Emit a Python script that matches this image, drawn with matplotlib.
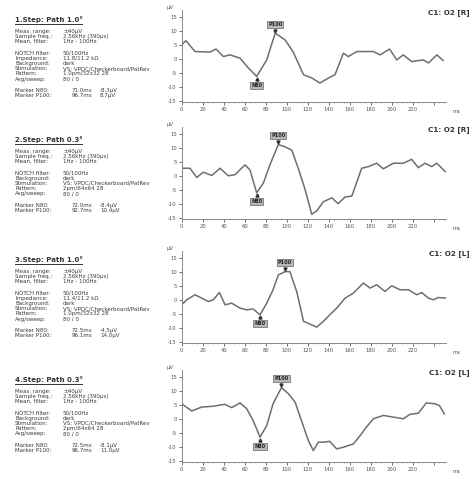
import matplotlib
matplotlib.use("Agg")
import matplotlib.pyplot as plt
from matplotlib.lines import Line2D
from matplotlib.ticker import MultipleLocator

W, H = 473, 479

# ---- data (ms, μV) ----
T1 = [0, 4, 12.7, 27, 32.7, 39.7, 46, 55.6, 63.5, 71.4, 81, 89, 98.4, 106, 116, 124,
      131.7, 139.7, 146, 154, 158.7, 166.7, 182.5, 189, 198, 204.8, 211, 219, 230, 235, 243, 249]
A1 = [5, 6.5, 2.6, 2.4, 3.5, 0.8, 1.4, 0.2, -3.3, -6.3, -0.4, 9.2, 6.8, 2.6, -5.7, -6.9,
      -8.7, -6.9, -5.7, 2.0, 0.8, 2.6, 2.6, 1.4, 3.5, -0.4, 1.4, -1.0, -0.4, -1.5, 1.4, -0.6]

T2 = [0, 7.9, 14.3, 20.6, 28.6, 36.5, 44.4, 50.8, 60.3, 65, 71.4, 77.8, 84, 92, 98.4, 104.8,
      111, 117.5, 123.8, 128.6, 135, 143, 149, 155.6, 162, 171.4, 177.8, 185.7, 192, 201.6,
      211, 219, 225.4, 231.7, 238, 243, 251]
A2 = [2.7, 2.7, -0.6, 1.3, 0.1, 2.7, 0, 0.4, 3.9, 2.1, -6.1, -2.6, 3.9, 11.2, 10.4, 9.2,
      2.7, -4.9, -13.8, -12.6, -9.3, -7.9, -10, -7.6, -7.3, 2.7, 3.3, 4.5, 2.5, 4.5,
      4.5, 5.9, 2.9, 4.5, 3.3, 4.5, 1.5]

T3 = [0, 4.8, 12.7, 19, 25.4, 30, 35.9, 41.3, 47.6, 55.6, 61.9, 68, 74.6, 81, 87, 92, 98.4,
      103, 109.5, 116, 122, 128.6, 135, 141, 147.6, 155.6, 163.5, 173, 179.4, 185.7, 193.6,
      200, 208, 216, 223.8, 228.6, 235, 239.7, 244.4, 252]
A3 = [-1.8, 0, 1.8, 0.6, -0.6, 0, 2.6, -1.8, -1.2, -3, -3.6, -3.3, -5.4, -1.2, 3.6, 8.9, 10.1,
      10.1, 3.0, -7.7, -8.7, -9.8, -7.7, -5.4, -3, 0.6, 2.4, 6, 4.2, 5.4, 3.0,
      5, 3.6, 3.6, 1.8, 2.6, 0.6, 0, 0.8, 0.6]

T4 = [0, 9.5, 19, 30, 41, 47.6, 55.6, 61.9, 68, 74.6, 81, 87, 95, 101.6, 108, 114, 120.6,
      125.4, 130, 135, 141, 147.6, 154, 163.5, 170, 174.6, 182.5, 192, 201.6, 211, 217.5,
      225.4, 233, 241, 245.4, 250]
A4 = [5.4, 2.8, 4.2, 4.5, 5.2, 4.0, 5.7, 3.6, -0.6, -6.6, -2.4, 5.4, 11.2, 9.0, 6.0, -0.6, -7.8,
      -11.4, -8.4, -8.4, -8.1, -10.8, -10.2, -9.0, -6, -3.6, 0, 1.2, 0.6, 0, 1.6,
      2.0, 5.7, 5.4, 4.8, 1.8]

N80_MS = [71.4, 71.4, 74.6, 74.6]
N80_UV = [-6.3, -6.1, -5.4, -6.6]
P100_MS = [89, 92, 98.4, 95]
P100_UV = [9.2, 11.2, 10.1, 11.2]

CHANNELS = ["C1: O2 [R]", "C1: O2 [R]", "C1: O2 [L]", "C1: O2 [L]"]
STEPS = ["1.Step: Path 1.0°", "2.Step: Path 0.3°", "3.Step: Path 1.0°", "4.Step: Path 0.3°"]
IMPEDANCE = ["11.8/11.2 kΩ", None, "11.4/11.2 kΩ", None]
PATTERN = ["1.0pm/32x32 28", "2pm/64x64 28", "1.0pm/32x32 28", "2pm/64x64 28"]
N80_TXT = [("71.0ms", "-8.3μV"), ("72.0ms", "-8.4μV"), ("72.5ms", "-4.5μV"), ("72.5ms", "-8.1μV")]
P100_TXT = [("96.7ms", "8.7μV"), ("92.7ms", "10.4μV"), ("96.1ms", "14.0μV"), ("96.7ms", "11.0μV")]

YTICKS = [15, 10, 5, 0, -5, -10, -15]
XTICKS = list(range(0, 240, 20))

TRACES = [(T1, A1), (T2, A2), (T3, A3), (T4, A4)]

fig = plt.figure(figsize=(W / 100, H / 100), dpi=100)
fig.patch.set_facecolor("white")


def ftext(x, y, s, **kw):
    fig.text(x / W, 1 - y / H, s, **kw)


TXT = "#3a3a3a"
FS = 4.0
tops = [10, 127, 251, 370]
for i, (t, a) in enumerate(TRACES):
    top = tops[i]
    ax = fig.add_axes([181.7 / W, 1 - (top + 92) / H, 264.6 / W, 92 / H])
    ax.plot(t, a, color="#6e6e6e", lw=1.1)
    ax.set_xlim(0, 252)
    ax.set_ylim(-15.5, 17.5)
    for s in ["top", "right"]:
        ax.spines[s].set_visible(False)
    for s in ["left", "bottom"]:
        ax.spines[s].set_color("#888888")
        ax.spines[s].set_linewidth(0.7)
    ax.set_yticks(YTICKS)
    ax.set_yticklabels([str(v) for v in YTICKS])
    ax.set_xticks(XTICKS + [240])
    ax.set_xticklabels([str(v) for v in XTICKS] + [""])
    ax.xaxis.set_minor_locator(MultipleLocator(5))
    ax.tick_params(labelsize=3.8, colors="#555555", length=2, width=0.6, pad=1.5)
    ax.tick_params(which="minor", length=1, width=0.4, colors="#999999")
    ax.patch.set_alpha(0)
    ax.text(-0.03, 1.0, "μV", transform=ax.transAxes, fontsize=3.8, color="#555555",
            ha="right", va="bottom")
    ax.text(1.025, -0.1, "ms", transform=ax.transAxes, fontsize=3.8, color="#555555",
            ha="left", va="center")

    # markers
    box = dict(boxstyle="square,pad=0.2", fc="#b8b8b8", ec="#444444", lw=0.4)
    ax.plot([N80_MS[i]], [N80_UV[i] - 0.9], marker="^", ms=2.2, color="#333333")
    ax.text(N80_MS[i], N80_UV[i] - 2.3, "N80", fontsize=3.6, ha="center", va="top",
            color="#222222", fontweight="bold", bbox=box)
    ax.plot([P100_MS[i]], [P100_UV[i] + 0.9], marker="v", ms=2.2, color="#333333")
    ax.text(P100_MS[i], P100_UV[i] + 2.3, "P100", fontsize=3.6, ha="center", va="bottom",
            color="#222222", fontweight="bold", bbox=box)

    # channel label
    ftext(470, top + 3, CHANNELS[i], fontsize=5.2, ha="right", va="center",
          color="#333333", fontweight="bold")

    # left info block
    y0 = 20 + 120 * i
    ftext(15, y0, STEPS[i], fontsize=5.0, fontweight="bold", color="#333333", va="center")
    fig.add_artist(Line2D([15 / W, 82 / W], [1 - (y0 + 3.5) / H] * 2, color="#333333", lw=0.7))
    rows = [("Meas. range:", "±40μV"),
            ("Sample freq.:", "2.56kHz (390μs)"),
            ("Mean. filter:", "1Hz - 100Hz"),
            None,
            ("NOTCH filter:", "50/100Hz")]
    if IMPEDANCE[i]:
        rows.append(("Impedance:", IMPEDANCE[i]))
    rows += [("Background:", "dark"),
             ("Stimulation:", "VS: VPDC/Checkerboard/PatRev"),
             ("Pattern:", PATTERN[i]),
             ("Avg/sweep:", "80 / 0"),
             None]
    y = y0 + 11.5
    for r in rows:
        if r is None:
            y += 6
            continue
        ftext(15, y, r[0], fontsize=FS, color=TXT, va="center")
        ftext(63, y, r[1], fontsize=FS, color=TXT, va="center")
        y += 5.2
    ftext(15, y, "Marker N80:", fontsize=FS, color=TXT, va="center")
    ftext(72, y, N80_TXT[i][0], fontsize=FS, color=TXT, va="center")
    ftext(100, y, N80_TXT[i][1], fontsize=FS, color=TXT, va="center")
    y += 5.4
    ftext(15, y, "Marker P100:", fontsize=FS, color=TXT, va="center")
    ftext(72, y, P100_TXT[i][0], fontsize=FS, color=TXT, va="center")
    ftext(100, y, P100_TXT[i][1], fontsize=FS, color=TXT, va="center")

fig.savefig("out.png", dpi=100)
